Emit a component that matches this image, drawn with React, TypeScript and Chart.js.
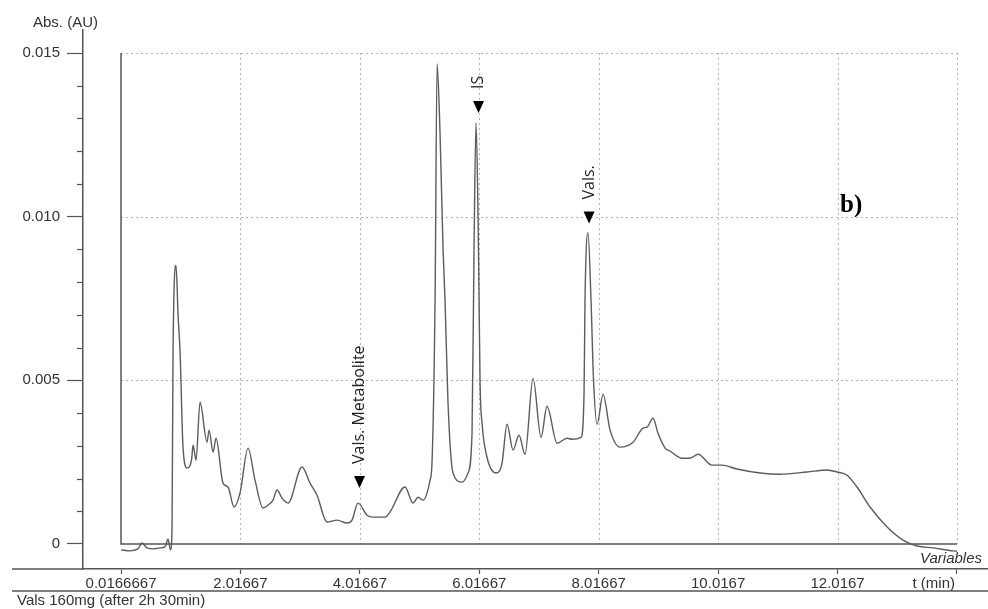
import React, { useEffect, useRef } from "react";
import { Chart, registerables } from "chart.js";

Chart.register(...registerables);

// ---- data ----
const traceTime = [
  0.017, 0.167, 0.3, 0.368, 0.452, 0.553, 0.67, 0.754, 0.804, 0.845,
  0.871, 0.888, 0.938, 0.972, 1.005, 1.055, 1.122, 1.2, 1.223, 1.273,
  1.34, 1.457, 1.491, 1.558, 1.608, 1.725, 1.809, 1.909, 2.01, 2.144,
  2.261, 2.395, 2.479, 2.562, 2.63, 2.713, 2.814, 3.048, 3.182, 3.299,
  3.467, 3.634, 3.802, 3.885, 3.986, 4.136, 4.237, 4.438, 4.522, 4.773,
  4.907, 4.991, 5.075, 5.192, 5.225, 5.276, 5.31, 5.36, 5.41, 5.443,
  5.493, 5.577, 5.728, 5.828, 5.895, 5.93, 5.962, 5.996, 6.013, 6.03,
  6.063, 6.146, 6.297, 6.398, 6.481, 6.582, 6.682, 6.783, 6.917, 7.051,
  7.151, 7.319, 7.486, 7.57, 7.721, 7.771, 7.787, 7.838, 7.888, 7.93,
  7.989, 8.089, 8.207, 8.374, 8.592, 8.759, 8.826, 8.927, 9.01, 9.128,
  9.211, 9.412, 9.546, 9.68, 9.914, 10.084, 10.33, 10.718, 11.053, 11.506,
  11.84, 12.008, 12.175, 12.343, 12.561, 12.846, 13.113, 13.348, 13.616, 13.951,
  14.017,
];
const traceAbs = [
  -0.00018, -0.00021, -0.00015, 0.00003, -0.00012, -0.00015, -0.00012, -0.00009, 0.00015, -0.00018,
  0.0005, 0.0059, 0.00851, 0.007, 0.0059, 0.00296, 0.00232, 0.0026, 0.00302, 0.00256,
  0.00433, 0.00311, 0.00348, 0.00281, 0.00323, 0.00186, 0.00174, 0.00113, 0.00156, 0.00293,
  0.00195, 0.0011, 0.00119, 0.00134, 0.00165, 0.0014, 0.00125, 0.00235, 0.00186, 0.00149,
  0.00067, 0.00073, 0.00064, 0.00073, 0.00125, 0.00088, 0.00082, 0.00082, 0.00098, 0.00174,
  0.00125, 0.00143, 0.00134, 0.00195, 0.0025, 0.00744, 0.01467, 0.0125, 0.009, 0.00744,
  0.0043, 0.00217, 0.00189, 0.00217, 0.00338, 0.00927, 0.01287, 0.01, 0.00744, 0.0049,
  0.00369, 0.00265, 0.00217, 0.00247, 0.00366, 0.00287, 0.00332, 0.00274, 0.00506, 0.00326,
  0.00421, 0.00308, 0.00323, 0.0032, 0.00326, 0.0046, 0.00744, 0.00951, 0.00744, 0.005,
  0.00366, 0.00457, 0.00348, 0.00296, 0.00311, 0.00354, 0.00357, 0.00384, 0.00338, 0.00293,
  0.00284, 0.00262, 0.00262, 0.00274, 0.00241, 0.00241, 0.00229, 0.00217, 0.00213, 0.0022,
  0.00226, 0.0022, 0.0021, 0.00174, 0.00113, 0.00052, 0.00012, -0.00006, -0.00012, -0.00021,
  -0.00022,
];

const xTickValues = [0.0166667, 2.01667, 4.01667, 6.01667, 8.01667, 10.0167, 12.0167, 14.0167];
const xTickLabels = ["0.0166667", "2.01667", "4.01667", "6.01667", "8.01667", "10.0167", "12.0167", ""];
const yMajorValues = [0, 0.005, 0.01, 0.015];
const yMajorLabels = ["0", "0.005", "0.010", "0.015"];
const yMinorStep = 0.001;

const peakLabels = ["Vals. Metabolite", "IS", "Vals."];
const peakTimes = [4.011, 6.004, 7.855];
const peakMarkAbs = [0.00171, 0.01317, 0.00979];

const xMin = -0.62;
const xMax = 14.536;
const yMin = -0.000764;
const yMax = 0.015703;

const yTitle = "Abs. (AU)";
const xTitle = "t (min)";
const varLabel = "Variables";
const footer = "Vals 160mg (after 2h 30min)";
const panelLabel = "b)";

const SANS = "'Liberation Sans', Arial, sans-serif";
const AXIS = "#555";
const TEXT = "#333";

const decor = {
  id: "decor",
  beforeDatasetsDraw(chart: any) {
    const { ctx, scales } = chart;
    const x = scales.x;
    const y = scales.y;
    const x0 = x.getPixelForValue(xTickValues[0]);
    const x1 = x.getPixelForValue(xTickValues[xTickValues.length - 1]);
    const yTop = y.getPixelForValue(yMajorValues[yMajorValues.length - 1]);
    const yZero = y.getPixelForValue(0);
    ctx.save();
    ctx.strokeStyle = "#b5b5b5";
    ctx.lineWidth = 1;
    ctx.setLineDash([2, 3]);
    for (const v of xTickValues.slice(1)) {
      const px = Math.round(x.getPixelForValue(v)) + 0.5;
      ctx.beginPath();
      ctx.moveTo(px, yTop);
      ctx.lineTo(px, yZero);
      ctx.stroke();
    }
    for (const v of yMajorValues.slice(1)) {
      const py = Math.round(y.getPixelForValue(v)) + 0.5;
      ctx.beginPath();
      ctx.moveTo(x0, py);
      ctx.lineTo(x1, py);
      ctx.stroke();
    }
    ctx.setLineDash([]);
    ctx.strokeStyle = AXIS;
    ctx.lineWidth = 1.5;
    ctx.beginPath();
    ctx.moveTo(x0, yTop);
    ctx.lineTo(x0, yZero);
    ctx.lineTo(x1, yZero);
    ctx.stroke();
    ctx.restore();
  },
  afterDraw(chart: any) {
    const { ctx, scales, chartArea, width } = chart;
    const x = scales.x;
    const y = scales.y;
    ctx.save();
    // minor y ticks
    ctx.strokeStyle = AXIS;
    ctx.lineWidth = 1.2;
    const nMinor = Math.round(yMajorValues[yMajorValues.length - 1] / yMinorStep);
    for (let i = 0; i <= nMinor; i++) {
      if (i % 5 === 0) continue;
      const py = Math.round(y.getPixelForValue(i * yMinorStep)) + 0.5;
      ctx.beginPath();
      ctx.moveTo(chartArea.left - 6, py);
      ctx.lineTo(chartArea.left, py);
      ctx.stroke();
    }
    // axis line extension and lower rule
    ctx.lineWidth = 1.5;
    ctx.beginPath();
    ctx.moveTo(12, chartArea.bottom);
    ctx.lineTo(chartArea.left, chartArea.bottom);
    ctx.moveTo(12, chartArea.bottom + 22);
    ctx.lineTo(width, chartArea.bottom + 22);
    ctx.stroke();

    // texts
    ctx.fillStyle = TEXT;
    ctx.font = `15px ${SANS}`;
    ctx.textBaseline = "alphabetic";
    ctx.textAlign = "left";
    ctx.fillText(yTitle, 33, 27);
    ctx.fillText(footer, 17, 605);
    ctx.textAlign = "right";
    ctx.fillText(xTitle, 955, 588);
    ctx.font = `italic 15px ${SANS}`;
    ctx.fillText(varLabel, 982, 563);

    ctx.fillStyle = "#000";
    ctx.textAlign = "left";
    ctx.font = `bold 25px 'Liberation Serif', 'Times New Roman', serif`;
    ctx.fillText(panelLabel, 840, 212);

    // peak annotations
    ctx.font = `16px 'Open Sans', ${SANS}`;
    for (let i = 0; i < peakLabels.length; i++) {
      const px = x.getPixelForValue(peakTimes[i]);
      const py = y.getPixelForValue(peakMarkAbs[i]);
      ctx.fillStyle = "#000";
      ctx.beginPath();
      ctx.moveTo(px, py);
      ctx.lineTo(px - 5.5, py - 12);
      ctx.lineTo(px + 5.5, py - 12);
      ctx.closePath();
      ctx.fill();
      ctx.save();
      ctx.translate(px, py - 24);
      ctx.rotate(-Math.PI / 2);
      ctx.fillStyle = "#222";
      ctx.textAlign = "left";
      ctx.textBaseline = "middle";
      ctx.fillText(peakLabels[i], 0, 0);
      ctx.restore();
    }
    ctx.restore();
  },
};

export default function App() {
  const ref = useRef<HTMLCanvasElement | null>(null);
  useEffect(() => {
    if (!ref.current) return;
    Chart.defaults.font.family = SANS;
    const chart = new Chart(ref.current, {
      type: "line",
      data: {
        datasets: [
          {
            data: traceTime.map((t, i) => ({ x: t, y: traceAbs[i] })),
            borderColor: "#5c5c5c",
            borderWidth: 1.4,
            pointRadius: 0,
            fill: false,
            tension: 0.3,
            cubicInterpolationMode: "monotone",
          } as any,
        ],
      },
      options: {
        responsive: false,
        animation: false,
        devicePixelRatio: 1,
        layout: { padding: { top: 30, left: 0, right: 0, bottom: 0 } },
        plugins: { legend: { display: false }, tooltip: { enabled: false } },
        scales: {
          x: {
            type: "linear",
            min: xMin,
            max: xMax,
            afterBuildTicks: (s: any) => {
              s.ticks = xTickValues.map((v) => ({ value: v }));
            },
            afterFit: (s: any) => {
              s.height = 40;
            },
            ticks: {
              autoSkip: false,
              maxRotation: 0,
              color: TEXT,
              font: { size: 15 },
              padding: 1,
              callback: (_v: any, i: number) => xTickLabels[i],
            },
            grid: { drawOnChartArea: false, drawTicks: true, tickLength: 5, tickColor: AXIS, tickWidth: 1.2 },
            border: { color: AXIS, width: 1.5 },
          },
          y: {
            type: "linear",
            min: yMin,
            max: yMax,
            afterBuildTicks: (s: any) => {
              s.ticks = yMajorValues.map((v) => ({ value: v }));
            },
            afterFit: (s: any) => {
              s.width = 83;
            },
            ticks: {
              color: TEXT,
              font: { size: 15 },
              padding: 7,
              callback: (_v: any, i: number) => yMajorLabels[i],
            },
            grid: { drawOnChartArea: false, drawTicks: true, tickLength: 16, tickColor: AXIS, tickWidth: 1.2 },
            border: { color: AXIS, width: 1.5 },
          },
        },
      } as any,
      plugins: [decor],
    });
    return () => chart.destroy();
  }, []);
  return (
    <div style={{ position: "absolute", left: 0, top: 0, width: 988, height: 609, background: "#fff" }}>
      <canvas ref={ref} width={988} height={609} style={{ display: "block" }} />
    </div>
  );
}
